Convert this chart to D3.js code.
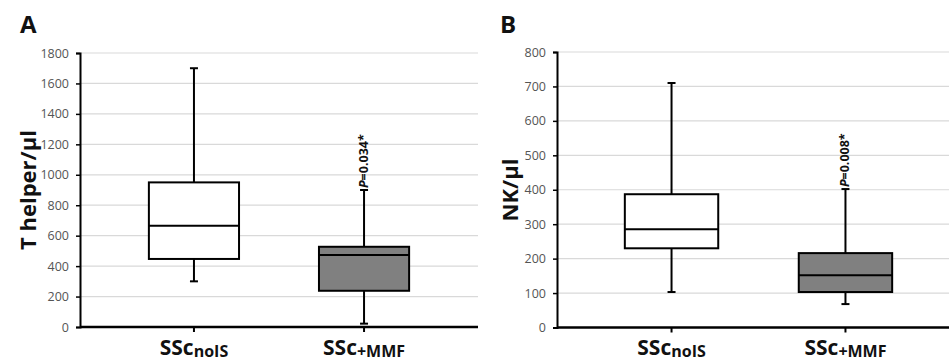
<!DOCTYPE html>
<html><head><meta charset="utf-8">
<script src="https://cdn.jsdelivr.net/npm/d3@7"></script>
<style>body{margin:0;background:#fff}svg{display:block}</style>
</head><body><svg id="c" width="949" height="363"></svg>
<script>
const categories = ["noIS", "+MMF"];
// [min, q1, median, q3, max]
const tHelper = [[300, 447, 665, 950, 1700], [22, 238, 473, 527, 900]];
const nk = [[103, 230, 285, 387, 710], [68, 103, 152, 216, 402]];
const tHelperTicks = [0,200,400,600,800,1000,1200,1400,1600,1800];
const nkTicks = [0,100,200,300,400,500,600,700,800];
const pValues = ["0.034*", "0.008*"];
const panelLabels = ["A", "B"];
const yTitles = ["T helper/µl", "NK/µl"];
const fills = ["#ffffff", "#808080"];

const svg = d3.select("#c");
const font = "'Open Sans', 'DejaVu Sans', sans-serif";

const panels = [
  {ox:0, axisX:80, right:478, top:53, bottom:327, max:1800, ticks:tHelperTicks, data:tHelper, p:pValues[0], label:panelLabels[0], title:yTitles[0], titleX:28, pi:0.47, po:0.405},
  {ox:480, axisX:557, right:960, top:52, bottom:327.5, max:800, ticks:nkTicks, data:nk, p:pValues[1], label:panelLabels[1], title:yTitles[1], titleX:510, pi:0.463, po:0.39}
];

panels.forEach(pn => {
  const g = svg.append("g");
  const y = d3.scaleLinear().domain([0, pn.max]).range([pn.bottom, pn.top]);
  const x = d3.scaleBand().domain(categories).range([pn.axisX, pn.right]).paddingInner(pn.pi).paddingOuter(pn.po);
  // gridlines
  g.selectAll(".grid").data(pn.ticks.slice(1)).join("line")
    .attr("x1", pn.axisX).attr("x2", pn.right)
    .attr("y1", d => y(d)).attr("y2", d => y(d))
    .attr("stroke", "#d9d9d9").attr("stroke-width", 1.2);
  // y axis
  const ya = d3.axisLeft(y).tickValues(pn.ticks).tickFormat(d3.format("d")).tickSize(4).tickPadding(7);
  const yg = g.append("g").attr("transform", `translate(${pn.axisX},0)`).call(ya);
  yg.select(".domain").attr("stroke", "#000").attr("stroke-width", 2);
  yg.selectAll(".tick line").attr("stroke", "#000").attr("stroke-width", 1.5);
  yg.selectAll(".tick text").attr("fill", "#555").attr("font-size", 12.5).attr("font-family", font);
  // x axis
  const xa = d3.axisBottom(x).tickSize(5).tickFormat("");
  const xg = g.append("g").attr("transform", `translate(0,${pn.bottom})`).call(xa);
  xg.select(".domain").attr("stroke", "#000").attr("stroke-width", 2.5).attr("d", `M${pn.axisX},0H${pn.right}`);
  xg.selectAll(".tick line").attr("stroke", "#000").attr("stroke-width", 2);
  // boxes
  const bw = x.bandwidth();
  pn.data.forEach((d, i) => {
    const cx = x(categories[i]) + bw/2;
    const bx = x(categories[i]);
    g.append("line").attr("x1", cx).attr("x2", cx).attr("y1", y(d[0])).attr("y2", y(d[4]))
      .attr("stroke", "#000").attr("stroke-width", 2);
    [d[0], d[4]].forEach(v => g.append("line").attr("x1", cx-4).attr("x2", cx+4).attr("y1", y(v)).attr("y2", y(v))
      .attr("stroke", "#000").attr("stroke-width", 2));
    g.append("rect").attr("x", bx).attr("width", bw).attr("y", y(d[3])).attr("height", y(d[1]) - y(d[3]))
      .attr("fill", fills[i]).attr("stroke", "#000").attr("stroke-width", 2);
    g.append("line").attr("x1", bx).attr("x2", bx+bw).attr("y1", y(d[2])).attr("y2", y(d[2]))
      .attr("stroke", "#000").attr("stroke-width", 2);
    // category label
    const t = g.append("text").attr("x", cx).attr("y", 355).attr("text-anchor", "middle")
      .attr("font-family", font).attr("font-weight", "bold").attr("fill", "#111");
    t.append("tspan").attr("font-size", 21).text("SSc");
    t.append("tspan").attr("font-size", 16).attr("dy", 2).text(categories[i]);
    if (i === 1) {
      const pt = g.append("text").attr("transform", `translate(${cx+4},${y(d[4]) - 2}) rotate(-90)`)
        .attr("font-family", font).attr("font-weight", "bold").attr("font-size", 12.5).attr("fill", "#111");
      pt.append("tspan").attr("font-style", "italic").text("P");
      pt.append("tspan").text("=" + pn.p);
    }
  });
  // panel label
  g.append("text").attr("x", pn.ox + 20).attr("y", 33).attr("font-family", font).attr("font-weight", "bold")
    .attr("font-size", 24).attr("fill", "#111").text(pn.label);
  // y title
  g.append("text").attr("transform", `translate(${pn.titleX + 8},${190}) rotate(-90)`).attr("text-anchor", "middle")
    .attr("font-family", font).attr("font-weight", "bold").attr("font-size", 22).attr("fill", "#111").text(pn.title);
});
</script></body></html>
